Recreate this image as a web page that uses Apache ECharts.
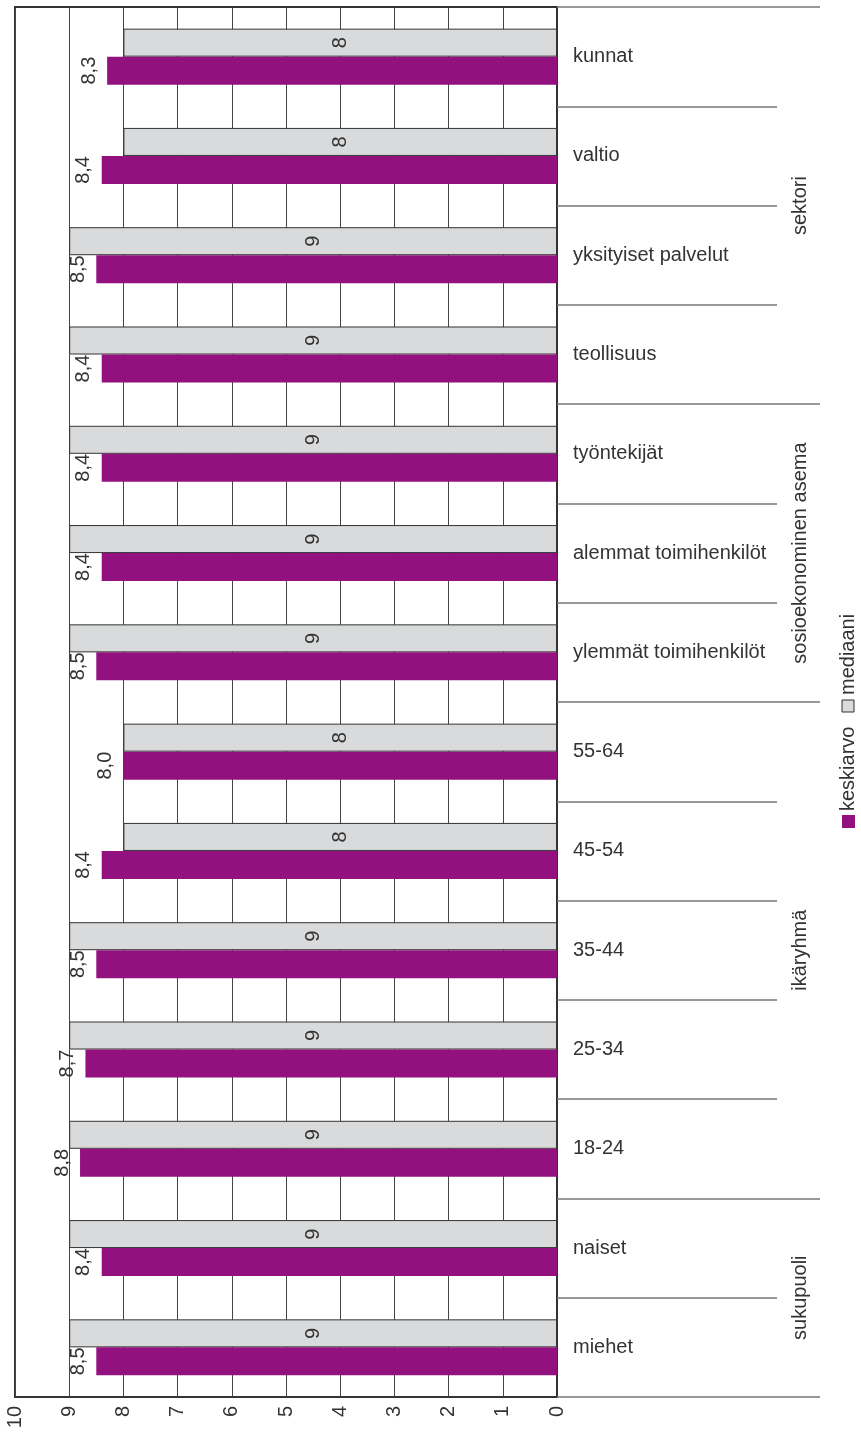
<!DOCTYPE html>
<html><head><meta charset="utf-8">
<script src="https://cdn.jsdelivr.net/npm/echarts@6/dist/echarts.min.js"></script>
<style>html,body{margin:0;padding:0;background:#fff}#c{width:861px;height:1441px}</style>
</head><body><div id="c"></div>
<script>
const categories = ['kunnat','valtio','yksityiset palvelut','teollisuus','työntekijät','alemmat toimihenkilöt','ylemmät toimihenkilöt','55-64','45-54','35-44','25-34','18-24','naiset','miehet'];
const keskiarvo = [8.3,8.4,8.5,8.4,8.4,8.4,8.5,8.0,8.4,8.5,8.7,8.8,8.4,8.5];
const mediaani = [8,8,9,9,9,9,9,8,8,9,9,9,9,9];
const groupNames = ['sektori','sosioekonominen asema','ikäryhmä','sukupuoli'];
const groupSizes = [4,3,5,2];
const seriesNames = ['keskiarvo','mediaani'];
const valueMin = 0, valueMax = 10, valueStep = 1;

const FONT = 'Liberation Sans';
const TXT = '#333';
const PURPLE = '#93117e';
const GREY = '#d9dadb';

const groupBounds = [0];
groupSizes.forEach(s => groupBounds.push(groupBounds[groupBounds.length-1] + s));
const groupCenters = groupSizes.map((s,i) => groupBounds[i] + s/2);

const chart = echarts.init(document.getElementById('c'), null, {renderer:'canvas'});
chart.setOption({
  animation:false,
  backgroundColor:'#fff',
  textStyle:{fontFamily:FONT},
  grid:{left:15, right:304, top:7, bottom:44, show:true, borderColor:'#333', borderWidth:2, containLabel:false},
  xAxis:[{
    type:'value', min:valueMin, max:valueMax, interval:valueStep, inverse:true, position:'bottom',
    axisLine:{show:true, lineStyle:{color:'#333', width:2}},
    axisTick:{show:false},
    splitLine:{show:true, lineStyle:{color:'#444', width:1}},
    axisLabel:{rotate:90, fontSize:20, color:TXT, margin:9, fontFamily:FONT}
  }],
  yAxis:[{
    type:'category', data:categories, inverse:true, position:'right',
    axisLine:{show:true, lineStyle:{color:'#333', width:2}},
    axisTick:{show:true, length:220, lineStyle:{color:'#777', width:1.5}},
    splitLine:{show:false},
    axisLabel:{margin:16, fontSize:20, color:TXT, fontFamily:FONT}
  },{
    type:'value', min:0, max:categories.length, inverse:true, position:'right',
    axisLine:{show:false},
    axisTick:{show:true, customValues:groupBounds, length:263, lineStyle:{color:'#777', width:1.5}},
    splitLine:{show:false},
    axisLabel:{show:true, customValues:groupCenters, rotate:90, margin:233, fontSize:20, color:TXT, fontFamily:FONT,
      formatter:(v)=>{ const i = groupCenters.indexOf(v); return i>=0 ? groupNames[i] : ''; }}
  }],
  series:[{
    name:seriesNames[1], type:'bar', data:mediaani, barWidth:28, barGap:'0%',
    itemStyle:{color:GREY, borderColor:'#333', borderWidth:1},
    label:{show:true, position:'inside', rotate:90, fontSize:20, color:TXT, fontFamily:FONT}
  },{
    name:seriesNames[0], type:'bar', data:keskiarvo, barWidth:28, barGap:'0%',
    itemStyle:{color:PURPLE},
    label:{show:true, position:'left', rotate:90, align:'center', verticalAlign:'bottom', distance:8,
      fontSize:20, color:TXT, fontFamily:FONT,
      formatter:(p)=>p.value.toFixed(1).replace('.',',')}
  }],
  graphic:[{
    type:'group', x:842, y:828, rotation:Math.PI/2,
    children:[
      {type:'rect', shape:{x:0,y:0,width:13,height:13}, style:{fill:PURPLE}},
      {type:'text', x:17, y:6.5, style:{text:seriesNames[0], fontSize:20, fill:TXT, fontFamily:FONT, verticalAlign:'middle', align:'left'}},
      {type:'rect', shape:{x:116,y:0,width:12,height:12}, style:{fill:GREY, stroke:'#333', lineWidth:1}},
      {type:'text', x:133, y:6.5, style:{text:seriesNames[1], fontSize:20, fill:TXT, fontFamily:FONT, verticalAlign:'middle', align:'left'}}
    ]
  }]
});
</script></body></html>
